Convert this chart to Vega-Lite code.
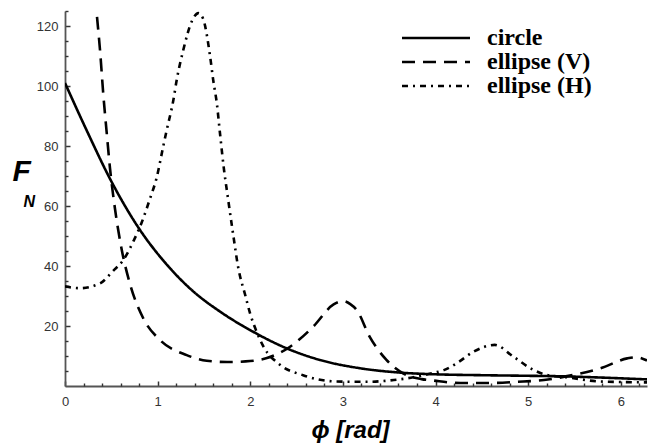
{
  "$schema": "https://vega.github.io/schema/vega-lite/v6.json",
  "width": 582,
  "height": 375,
  "autosize": "none",
  "padding": {"left": 65, "top": 11, "right": 9, "bottom": 57},
  "background": "white",
  "config": {"view": {"stroke": null}},
  "data": {"values": [
    {"series": "circle", "x": 0, "y": 101},
    {"series": "circle", "x": 0.234, "y": 85.2},
    {"series": "circle", "x": 0.504, "y": 68},
    {"series": "circle", "x": 0.81, "y": 52},
    {"series": "circle", "x": 1.098, "y": 40.5},
    {"series": "circle", "x": 1.386, "y": 31.5},
    {"series": "circle", "x": 1.674, "y": 24.8},
    {"series": "circle", "x": 2.03, "y": 18.1},
    {"series": "circle", "x": 2.39, "y": 12.6},
    {"series": "circle", "x": 2.75, "y": 8.7},
    {"series": "circle", "x": 3.19, "y": 5.9},
    {"series": "circle", "x": 3.6, "y": 4.5},
    {"series": "circle", "x": 4.0, "y": 3.9},
    {"series": "circle", "x": 4.5, "y": 3.6},
    {"series": "circle", "x": 5.0, "y": 3.4},
    {"series": "circle", "x": 5.4, "y": 3.2},
    {"series": "circle", "x": 5.8, "y": 2.8},
    {"series": "circle", "x": 6.2832, "y": 2.2},
    {"series": "ellipse (V)", "x": 0.25, "y": 165},
    {"series": "ellipse (V)", "x": 0.3, "y": 140},
    {"series": "ellipse (V)", "x": 0.34, "y": 125},
    {"series": "ellipse (V)", "x": 0.378, "y": 112},
    {"series": "ellipse (V)", "x": 0.414, "y": 97},
    {"series": "ellipse (V)", "x": 0.45, "y": 84.5},
    {"series": "ellipse (V)", "x": 0.486, "y": 72.5},
    {"series": "ellipse (V)", "x": 0.54, "y": 59},
    {"series": "ellipse (V)", "x": 0.612, "y": 45.5},
    {"series": "ellipse (V)", "x": 0.7, "y": 34.2},
    {"series": "ellipse (V)", "x": 0.846, "y": 22.5},
    {"series": "ellipse (V)", "x": 1.026, "y": 15.3},
    {"series": "ellipse (V)", "x": 1.314, "y": 10.3},
    {"series": "ellipse (V)", "x": 1.53, "y": 8.4},
    {"series": "ellipse (V)", "x": 1.75, "y": 8.0},
    {"series": "ellipse (V)", "x": 1.95, "y": 8.2},
    {"series": "ellipse (V)", "x": 2.18, "y": 9.3},
    {"series": "ellipse (V)", "x": 2.43, "y": 13.1},
    {"series": "ellipse (V)", "x": 2.68, "y": 19.8},
    {"series": "ellipse (V)", "x": 2.9, "y": 27.2},
    {"series": "ellipse (V)", "x": 3.0, "y": 28.3},
    {"series": "ellipse (V)", "x": 3.08, "y": 27.3},
    {"series": "ellipse (V)", "x": 3.15, "y": 25.3},
    {"series": "ellipse (V)", "x": 3.29, "y": 16.4},
    {"series": "ellipse (V)", "x": 3.47, "y": 8.7},
    {"series": "ellipse (V)", "x": 3.65, "y": 4.2},
    {"series": "ellipse (V)", "x": 3.85, "y": 2.3},
    {"series": "ellipse (V)", "x": 3.98, "y": 1.8},
    {"series": "ellipse (V)", "x": 4.27, "y": 1.0},
    {"series": "ellipse (V)", "x": 4.59, "y": 1.0},
    {"series": "ellipse (V)", "x": 4.88, "y": 1.4},
    {"series": "ellipse (V)", "x": 5.17, "y": 2.0},
    {"series": "ellipse (V)", "x": 5.49, "y": 3.7},
    {"series": "ellipse (V)", "x": 5.78, "y": 5.9},
    {"series": "ellipse (V)", "x": 6.07, "y": 9.2},
    {"series": "ellipse (V)", "x": 6.17, "y": 9.6},
    {"series": "ellipse (V)", "x": 6.2832, "y": 8.5},
    {"series": "ellipse (H)", "x": 0, "y": 33.2},
    {"series": "ellipse (H)", "x": 0.16, "y": 32.6},
    {"series": "ellipse (H)", "x": 0.378, "y": 34.2},
    {"series": "ellipse (H)", "x": 0.52, "y": 38.4},
    {"series": "ellipse (H)", "x": 0.63, "y": 42},
    {"series": "ellipse (H)", "x": 0.738, "y": 48.2},
    {"series": "ellipse (H)", "x": 0.828, "y": 54.5},
    {"series": "ellipse (H)", "x": 0.918, "y": 62.5},
    {"series": "ellipse (H)", "x": 0.99, "y": 69.5},
    {"series": "ellipse (H)", "x": 1.06, "y": 79.8},
    {"series": "ellipse (H)", "x": 1.098, "y": 85.3},
    {"series": "ellipse (H)", "x": 1.17, "y": 95.3},
    {"series": "ellipse (H)", "x": 1.206, "y": 102},
    {"series": "ellipse (H)", "x": 1.277, "y": 112},
    {"series": "ellipse (H)", "x": 1.368, "y": 121.5},
    {"series": "ellipse (H)", "x": 1.44, "y": 124.3},
    {"series": "ellipse (H)", "x": 1.49, "y": 122.5},
    {"series": "ellipse (H)", "x": 1.566, "y": 110},
    {"series": "ellipse (H)", "x": 1.6, "y": 102},
    {"series": "ellipse (H)", "x": 1.64, "y": 94},
    {"series": "ellipse (H)", "x": 1.674, "y": 84},
    {"series": "ellipse (H)", "x": 1.717, "y": 72},
    {"series": "ellipse (H)", "x": 1.753, "y": 64},
    {"series": "ellipse (H)", "x": 1.818, "y": 50},
    {"series": "ellipse (H)", "x": 1.87, "y": 39.5},
    {"series": "ellipse (H)", "x": 1.944, "y": 30.5},
    {"series": "ellipse (H)", "x": 2.0, "y": 24},
    {"series": "ellipse (H)", "x": 2.07, "y": 18},
    {"series": "ellipse (H)", "x": 2.14, "y": 13.3},
    {"series": "ellipse (H)", "x": 2.32, "y": 7.1},
    {"series": "ellipse (H)", "x": 2.57, "y": 3.6},
    {"series": "ellipse (H)", "x": 2.93, "y": 1.5},
    {"series": "ellipse (H)", "x": 3.26, "y": 1.4},
    {"series": "ellipse (H)", "x": 3.55, "y": 2.0},
    {"series": "ellipse (H)", "x": 3.76, "y": 2.9},
    {"series": "ellipse (H)", "x": 3.98, "y": 4.4},
    {"series": "ellipse (H)", "x": 4.09, "y": 5.3},
    {"series": "ellipse (H)", "x": 4.23, "y": 7.6},
    {"series": "ellipse (H)", "x": 4.41, "y": 11.4},
    {"series": "ellipse (H)", "x": 4.64, "y": 13.7},
    {"series": "ellipse (H)", "x": 4.84, "y": 9.8},
    {"series": "ellipse (H)", "x": 5.06, "y": 5.3},
    {"series": "ellipse (H)", "x": 5.2, "y": 3.7},
    {"series": "ellipse (H)", "x": 5.42, "y": 2.9},
    {"series": "ellipse (H)", "x": 5.78, "y": 1.5},
    {"series": "ellipse (H)", "x": 6.2832, "y": 1.2}
  ]},
  "layer": [
    {
      "mark": {"type": "line", "color": "black", "strokeWidth": 2.6, "interpolate": "monotone", "clip": true},
      "encoding": {
        "x": {
          "field": "x", "type": "quantitative",
          "scale": {"domain": [0, 6.2832], "nice": false, "zero": false},
          "axis": {
            "orient": "bottom",
            "title": "ϕ [rad]",
            "titleFont": "Liberation Sans", "titleFontSize": 24, "titleFontStyle": "italic", "titleFontWeight": "bold",
            "titleColor": "black", "titleX": 285, "titleY": 51, "titleAlign": "center", "titleBaseline": "alphabetic",
            "values": [0, 1, 2, 3, 4, 5, 6],
            "format": "d",
            "ticks": true, "tickSize": -5, "tickColor": "#333", "tickWidth": 1.5,
            "labelFont": "Liberation Sans", "labelFontSize": 13, "labelColor": "#333",
            "labelPadding": 14, "labelFlush": false, "labelOverlap": false,
            "domainColor": "#555", "domainWidth": 1.8, "grid": false
          }
        },
        "y": {
          "field": "y", "type": "quantitative",
          "scale": {"domain": [0, 125], "nice": false},
          "axis": {
            "orient": "left",
            "title": "F",
            "titleFont": "Liberation Sans", "titleFontSize": 30, "titleFontStyle": "italic", "titleFontWeight": "bold",
            "titleColor": "black", "titleAngle": 0, "titleX": -53, "titleY": 169, "titleAlign": "left", "titleBaseline": "alphabetic",
            "values": [20, 40, 60, 80, 100, 120],
            "format": "d",
            "ticks": true, "tickSize": -5, "tickColor": "#333", "tickWidth": 1.5,
            "labelFont": "Liberation Sans", "labelFontSize": 13, "labelColor": "#333",
            "labelPadding": 12, "labelFlush": false, "labelOverlap": false,
            "domainColor": "#555", "domainWidth": 1.8, "grid": false
          }
        },
        "strokeDash": {
          "field": "series", "type": "nominal",
          "scale": {"domain": ["circle", "ellipse (V)", "ellipse (H)"], "range": [[1, 0], [13, 8], [6, 5, 2, 5]]},
          "legend": {
            "title": null, "orient": "none", "legendX": 337, "legendY": 15, "padding": 0,
            "symbolType": "M-10,0H10", "symbolSize": 46.24, "symbolStrokeWidth": 2.5,
            "symbolStrokeColor": "black", "symbolFillColor": "transparent", "symbolOffset": 22,
            "labelOffset": 39, "labelFont": "Liberation Serif", "labelFontSize": 24, "labelFontWeight": "bold",
            "labelColor": "black", "rowPadding": 0, "labelLimit": 300
          }
        }
      }
    },
    {
      "mark": {"type": "line", "strokeOpacity": 0, "interpolate": "monotone", "clip": true},
      "encoding": {
        "x": {
          "field": "x", "type": "quantitative",
          "axis": {
            "orient": "bottom", "title": null, "labels": false, "domain": false, "grid": false,
            "values": [0.2,0.4,0.6,0.8,1.2,1.4,1.6,1.8,2.2,2.4,2.6,2.8,3.2,3.4,3.6,3.8,4.2,4.4,4.6,4.8,5.2,5.4,5.6,5.8,6.2],
            "ticks": true, "tickSize": -3, "tickColor": "#333", "tickWidth": 1.4
          }
        },
        "y": {
          "field": "y", "type": "quantitative",
          "axis": {
            "orient": "left", "title": "N", "labels": false, "domain": false, "grid": false,
            "values": [5,10,15,25,30,35,45,50,55,65,70,75,85,90,95,105,110,115,125],
            "ticks": true, "tickSize": -3, "tickColor": "#333", "tickWidth": 1.4,
            "titleFont": "Liberation Sans", "titleFontSize": 16, "titleFontStyle": "italic", "titleFontWeight": "bold",
            "titleColor": "black", "titleAngle": 0, "titleX": -42, "titleY": 195, "titleAlign": "left", "titleBaseline": "alphabetic"
          }
        },
        "detail": {"field": "series", "type": "nominal"}
      }
    }
  ],
  "resolve": {"axis": {"x": "independent", "y": "independent"}}
}
